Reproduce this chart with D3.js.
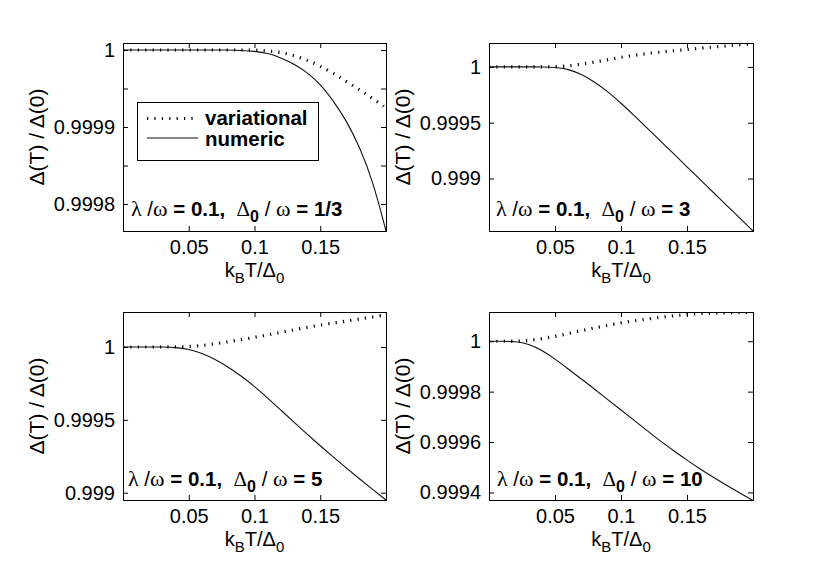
<!DOCTYPE html>
<html>
<head>
<meta charset="utf-8">
<script src="https://cdn.jsdelivr.net/npm/d3@7/dist/d3.min.js"></script>
<style>
  html, body { margin: 0; padding: 0; background: #fff; }
  svg { display: block; }
</style>
</head>
<body>
<svg id="chart" width="830" height="568"></svg>
<script>
// ---------------- DATA ----------------
const temperature = [0, 0.01, 0.02, 0.03, 0.04, 0.05, 0.06, 0.07, 0.08, 0.09, 0.10,
                     0.11, 0.12, 0.13, 0.14, 0.15, 0.16, 0.17, 0.18, 0.19, 0.20];

// panel 1 : Delta0/omega = 1/3
const variational1 = [1, 1, 1, 1, 1, 1, 1, 1, 1, 1, 1.0,
  0.999999, 0.999997, 0.999993, 0.999987, 0.999979, 0.999970, 0.999959, 0.999948, 0.999937, 0.999925];
const numeric1 = [1, 1, 1, 1, 1, 1, 1, 1, 1, 0.9999995, 0.9999985,
  0.999996, 0.999990, 0.999982, 0.999971, 0.999956, 0.999934, 0.999908, 0.999874, 0.999830, 0.999765];

// panel 2 : Delta0/omega = 3
const variational2 = [1, 1, 1, 1, 1, 1, 1.000008, 1.000024, 1.000043, 1.000065, 1.000086,
  1.000103, 1.000120, 1.000133, 1.000145, 1.000156, 1.000167, 1.000178, 1.000188, 1.000198, 1.000208];
const numeric2 = [1, 1, 1, 1, 1, 0.999997, 0.999980, 0.999935, 0.999865, 0.999780, 0.999675,
  0.999565, 0.999450, 0.999335, 0.999220, 0.999105, 0.998990, 0.998875, 0.998760, 0.998645, 0.998530];

// panel 3 : Delta0/omega = 5
const variational3 = [1, 1, 1, 1, 1, 1.000003, 1.000009, 1.000022, 1.000036, 1.000050, 1.000066,
  1.000083, 1.000100, 1.000118, 1.000135, 1.000150, 1.000164, 1.000178, 1.000192, 1.000206, 1.000220];
const numeric3 = [1, 1, 1, 1, 0.999997, 0.999985, 0.999958, 0.999915, 0.999862, 0.999800, 0.999730,
  0.999650, 0.999567, 0.999484, 0.999402, 0.999322, 0.999244, 0.999168, 0.999094, 0.999021, 0.998950];

// panel 4 : Delta0/omega = 10
const variational4 = [1, 1, 1, 1.000003, 1.000010, 1.000019, 1.000030, 1.000042, 1.000053, 1.000063, 1.000073,
  1.000081, 1.000088, 1.000095, 1.000101, 1.000106, 1.000110, 1.000112, 1.000113, 1.000114, 1.000115];
const numeric4 = [1, 1, 0.999999, 0.999990, 0.999965, 0.999930, 0.999890, 0.999850, 0.999810, 0.999768, 0.999727,
  0.999686, 0.999644, 0.999603, 0.999565, 0.999528, 0.999493, 0.999460, 0.999428, 0.999398, 0.999368];

const xTicks = [0.05, 0.1, 0.15];
const xTickLabels = ["0.05", "0.1", "0.15"];

const yTicks1 = [1, 0.99995, 0.9999, 0.99985, 0.9998];
const yTickLabels1 = ["1", "", "0.9999", "", "0.9998"];
const yTicks2 = [1, 0.9995, 0.999];
const yTickLabels2 = ["1", "0.9995", "0.999"];
const yTicks3 = [1, 0.9995, 0.999];
const yTickLabels3 = ["1", "0.9995", "0.999"];
const yTicks4 = [1, 0.9998, 0.9996, 0.9994];
const yTickLabels4 = ["1", "0.9998", "0.9996", "0.9994"];

const yDomain1 = [0.999765, 1.0000091];
const yDomain2 = [0.99853, 1.000214];
const yDomain3 = [0.99895, 1.00024];
const yDomain4 = [0.99937, 1.000116];
const xDomain = [0, 0.2];

const couplingLabel = "0.1";
const ratioLabels = ["1/3", "3", "5", "10"];
const legendLabels = ["variational", "numeric"];

// ---------------- LAYOUT ----------------
const SANS = "'Liberation Sans', Arial, Helvetica, sans-serif";
const SERIF = "'Liberation Serif', 'Times New Roman', serif";
const FS = 20;
const DOTS = "1.2 6.2";
const DOTW = 3.2;

const panels = [
  { left: 123, top: 43, w: 263, h: 188, yDomain: yDomain1, yTicks: yTicks1, yLabels: yTickLabels1,
    variational: variational1, numeric: numeric1, ratio: ratioLabels[0], legend: true, ann: [8, 15] },
  { left: 489, top: 43, w: 264, h: 188, yDomain: yDomain2, yTicks: yTicks2, yLabels: yTickLabels2,
    variational: variational2, numeric: numeric2, ratio: ratioLabels[1], legend: false, ann: [7, 15] },
  { left: 123, top: 312, w: 263, h: 188, yDomain: yDomain3, yTicks: yTicks3, yLabels: yTickLabels3,
    variational: variational3, numeric: numeric3, ratio: ratioLabels[2], legend: false, ann: [5, 14] },
  { left: 489, top: 312, w: 264, h: 188, yDomain: yDomain4, yTicks: yTicks4, yLabels: yTickLabels4,
    variational: variational4, numeric: numeric4, ratio: ratioLabels[3], legend: false, ann: [8, 14] }
];

const svg = d3.select("#chart");

panels.forEach((p, i) => {
  const x = d3.scaleLinear().domain(xDomain).range([p.left, p.left + p.w]);
  const y = d3.scaleLinear().domain(p.yDomain).range([p.top + p.h, p.top]);
  const g = svg.append("g");

  const clipId = "clip" + i;
  g.append("clipPath").attr("id", clipId).append("rect")
    .attr("x", p.left).attr("y", p.top).attr("width", p.w + 1).attr("height", p.h + 1);

  g.append("rect").attr("x", p.left).attr("y", p.top).attr("width", p.w).attr("height", p.h)
    .attr("fill", "#fff");

  const labelMap = new Map(p.yTicks.map((t, k) => [t, p.yLabels[k]]));
  const xLabelMap = new Map(xTicks.map((t, k) => [t, xTickLabels[k]]));

  const ax = [
    g.append("g").attr("transform", `translate(0,${p.top + p.h})`)
      .call(d3.axisBottom(x).tickValues(xTicks).tickSizeInner(-5).tickSizeOuter(0).tickPadding(9)
        .tickFormat(d => xLabelMap.get(d))),
    g.append("g").attr("transform", `translate(0,${p.top})`)
      .call(d3.axisTop(x).tickValues(xTicks).tickSizeInner(-5).tickSizeOuter(0).tickFormat(() => "")),
    g.append("g").attr("transform", `translate(${p.left},0)`)
      .call(d3.axisLeft(y).tickValues(p.yTicks).tickSizeInner(-5).tickSizeOuter(0).tickPadding(8)
        .tickFormat(d => labelMap.get(d))),
    g.append("g").attr("transform", `translate(${p.left + p.w},0)`)
      .call(d3.axisRight(y).tickValues(p.yTicks).tickSizeInner(-5).tickSizeOuter(0).tickFormat(() => ""))
  ];
  ax.forEach(a => {
    a.select(".domain").remove();
    a.selectAll("line").attr("stroke", "#000").attr("stroke-width", 1);
    a.selectAll("text").attr("font-family", SANS).attr("font-size", FS).attr("fill", "#000");
  });

  const rows = temperature.map((t, k) => ({ t, v: p.variational[k], n: p.numeric[k] }));
  const lineV = d3.line().x(d => x(d.t)).y(d => y(d.v)).curve(d3.curveBasis);
  const lineN = d3.line().x(d => x(d.t)).y(d => y(d.n)).curve(d3.curveBasis);

  const plot = g.append("g").attr("clip-path", `url(#${clipId})`);
  plot.append("path").datum(rows).attr("d", lineN)
    .attr("fill", "none").attr("stroke", "#111").attr("stroke-width", 1.1);
  plot.append("path").datum(rows).attr("d", lineV)
    .attr("fill", "none").attr("stroke", "#000").attr("stroke-width", DOTW)
    .attr("stroke-dasharray", DOTS);

  g.append("rect").attr("x", p.left + 0.5).attr("y", p.top + 0.5).attr("width", p.w).attr("height", p.h)
    .attr("fill", "none").attr("stroke", "#000").attr("stroke-width", 1);

  // annotation
  const ann = g.append("text").attr("x", p.left + p.ann[0]).attr("y", p.top + p.h - p.ann[1])
    .attr("font-family", SANS).attr("font-size", 20.5).attr("fill", "#000");
  ann.append("tspan").attr("font-family", SERIF).attr("font-size", 22).text("λ");
  ann.append("tspan").text(" /");
  ann.append("tspan").attr("font-family", SERIF).attr("font-size", 22).text("ω");
  ann.append("tspan").attr("font-weight", "bold").text(" = " + couplingLabel + ",\u00a0\u00a0");
  ann.append("tspan").attr("font-family", SERIF).attr("font-size", 21).text("Δ");
  ann.append("tspan").attr("font-weight", "bold").attr("font-size", 16).attr("dy", 6).text("0");
  ann.append("tspan").attr("dy", -6).text(" / ");
  ann.append("tspan").attr("font-family", SERIF).attr("font-size", 22).text("ω");
  ann.append("tspan").attr("font-weight", "bold").text(" = " + p.ratio);

  // y label
  g.append("text")
    .attr("transform", `translate(${p.left - 79},${p.top + p.h / 2}) rotate(-90)`)
    .attr("text-anchor", "middle").attr("font-family", SANS).attr("font-size", 21).attr("fill", "#000")
    .text("Δ(T) / Δ(0)");

  // x label
  const xl = g.append("text").attr("x", p.left + p.w / 2).attr("y", p.top + p.h + 46)
    .attr("text-anchor", "middle").attr("font-family", SANS).attr("font-size", FS).attr("fill", "#000");
  xl.append("tspan").text("k");
  xl.append("tspan").attr("font-size", 15).attr("dy", 6).text("B");
  xl.append("tspan").attr("dy", -6).text("T/Δ");
  xl.append("tspan").attr("font-size", 15).attr("dy", 6).text("0");

  // legend
  if (p.legend) {
    const lg = g.append("g");
    lg.append("rect").attr("x", 137.5).attr("y", 102.5).attr("width", 181).attr("height", 58)
      .attr("fill", "#fff").attr("stroke", "#000").attr("stroke-width", 1);
    const sampleX = d3.scaleLinear().domain([0, 1]).range([147, 197]);
    lg.append("line").attr("x1", sampleX(0)).attr("x2", sampleX(1)).attr("y1", 118.5).attr("y2", 118.5)
      .attr("stroke", "#000").attr("stroke-width", DOTW).attr("stroke-dasharray", DOTS);
    lg.append("line").attr("x1", sampleX(0)).attr("x2", sampleX(1) + 1).attr("y1", 138).attr("y2", 138)
      .attr("stroke", "#111").attr("stroke-width", 1.1);
    lg.append("text").attr("x", 205).attr("y", 125).attr("font-family", SANS).attr("font-weight", "bold")
      .attr("font-size", 20.5).text(legendLabels[0]);
    lg.append("text").attr("x", 205).attr("y", 146).attr("font-family", SANS).attr("font-weight", "bold")
      .attr("font-size", 20.5).text(legendLabels[1]);
  }
});
</script>
</body>
</html>
